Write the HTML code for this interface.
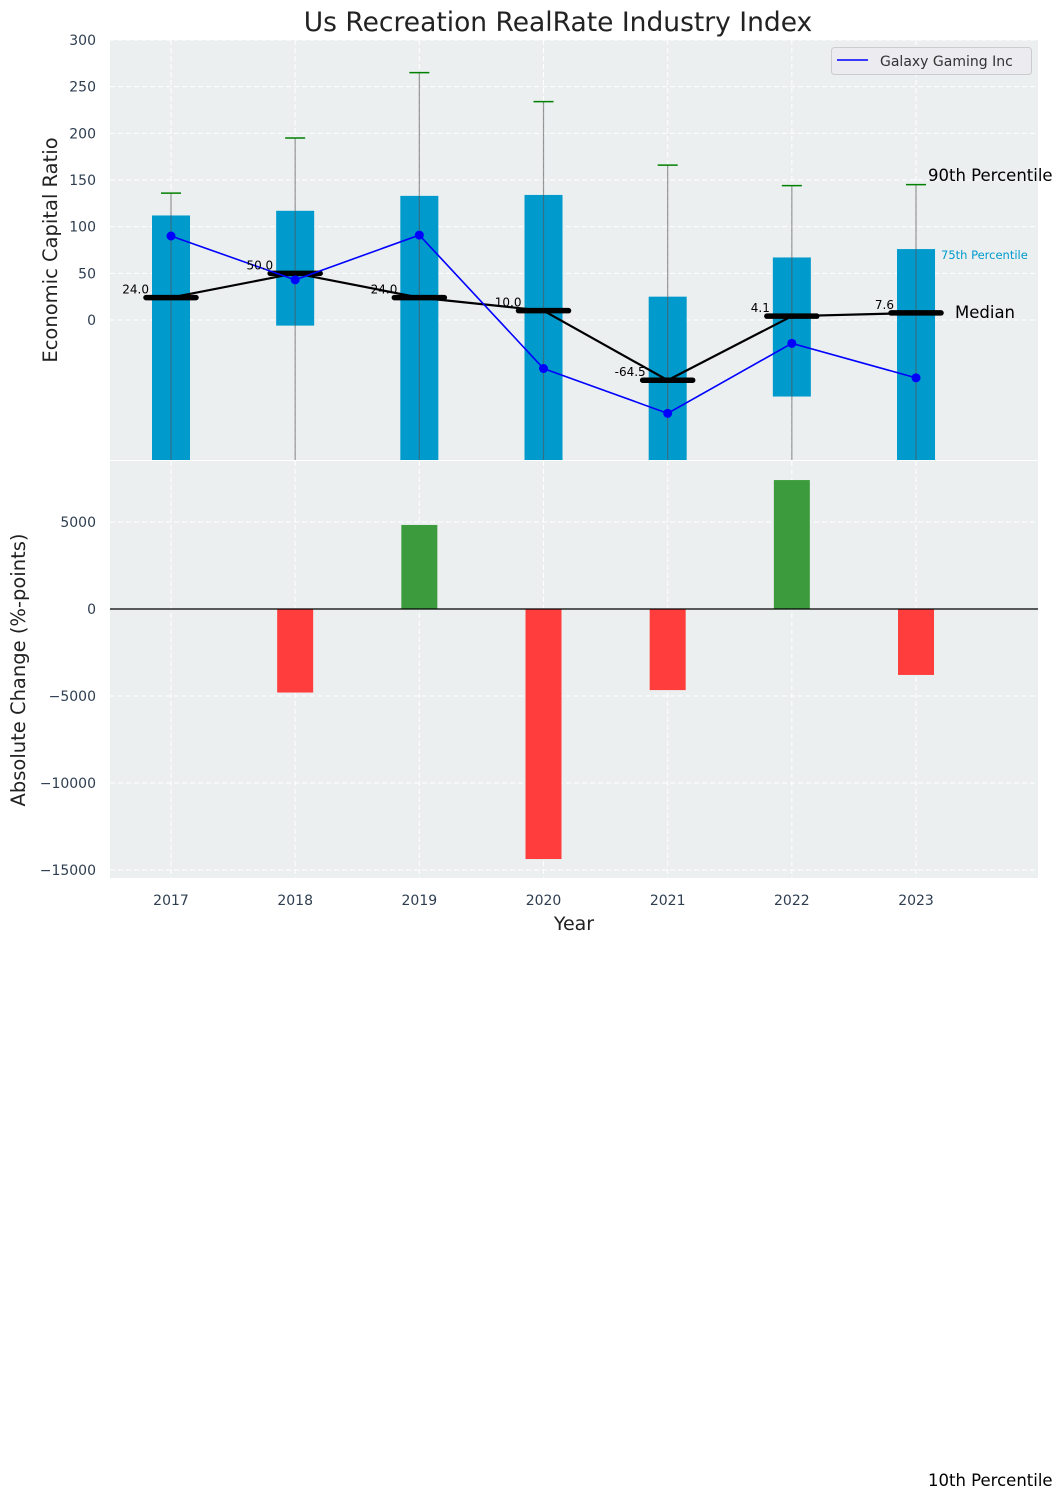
<!DOCTYPE html>
<html><head><meta charset="utf-8">
<style>
body{margin:0;background:#fff;}
svg{display:block;font-family:"DejaVu Sans","Liberation Sans",sans-serif;}
</style></head>
<body>
<svg id="chart" width="1063" height="1500" viewBox="0 0 1063 1500" xmlns="http://www.w3.org/2000/svg"></svg>
<script>
const years = [2017, 2018, 2019, 2020, 2021, 2022, 2023];
const p90 = [136, 195, 265, 234, 166, 144, 145];
const p75 = [112, 117, 133, 134, 25, 67, 76];
const p25 = [-200, -6, -200, -200, -200, -82, -200];
const p10 = [-250, -250, -250, -250, -250, -250, -250];
const medians = [24.0, 50.0, 24.0, 10.0, -64.5, 4.1, 7.6];
const medianLabels = ["24.0", "50.0", "24.0", "10.0", "-64.5", "4.1", "7.6"];
const company = [90, 43, 91, -52, -100, -25, -62];
const changes = [0, -4800, 4830, -14370, -4660, 7410, -3790];
const topTicks = [0, 50, 100, 150, 200, 250, 300];
const botTicks = [5000, 0, -5000, -10000, -15000];

const svgEl = document.getElementById('chart');
const NS = 'http://www.w3.org/2000/svg';
function mk(tag, attrs, parent, text){
  const e = document.createElementNS(NS, tag);
  for (const k in attrs) e.setAttribute(k, attrs[k]);
  if (text !== undefined) e.textContent = text;
  (parent || svgEl).appendChild(e);
  return e;
}
const L = 110, R = 1038;
const T1 = 40, B1 = 460, T2 = 461, B2 = 878;
const xS = i => 171 + i * 124.17;
const y1 = v => 320 - v * (280 / 300);
const y2 = v => 609 - v * (87 / 5000);

const bg1 = mk('rect', {x: L, y: T1, width: R - L, height: B1 - T1, fill: '#ebeff0'});


const bg2 = mk('rect', {x: L, y: T2, width: R - L, height: B2 - T2, fill: '#ebeff0'});



topTicks.forEach(t => {
  const g = mk('line', {x1: L, x2: R, y1: y1(t), y2: y1(t), stroke: '#fff', 'stroke-dasharray': '5,3', 'stroke-width': 1});
  
  
  const tl = mk('text', {x: 96, y: y1(t) + 5, 'text-anchor': 'end', 'font-size': 14, fill: '#2e3e50'}, svgEl, String(t));
  
  
});
botTicks.forEach(t => {
  const g = mk('line', {x1: L, x2: R, y1: y2(t), y2: y2(t), stroke: '#fff', 'stroke-dasharray': '5,3', 'stroke-width': 1});
  
  
  const lab = t < 0 ? '\u2212' + Math.abs(t) : String(t);
  const tl = mk('text', {x: 96, y: y2(t) + 5, 'text-anchor': 'end', 'font-size': 14, fill: '#2e3e50'}, svgEl, lab);
  
  
});
years.forEach((yr, i) => {
  const g1 = mk('line', {x1: xS(i), x2: xS(i), y1: T1, y2: B1, stroke: '#fff', 'stroke-dasharray': '5,3'});
  
  
  const g2 = mk('line', {x1: xS(i), x2: xS(i), y1: T2, y2: B2, stroke: '#fff', 'stroke-dasharray': '5,3'});
  
  
  const tl = mk('text', {x: xS(i), y: 905, 'text-anchor': 'middle', 'font-size': 14, fill: '#2e3e50'}, svgEl, String(yr));
  
  
});

const defs = mk('defs', {});
const cp = mk('clipPath', {id: 'c1'}, defs);
mk('rect', {x: L, y: T1, width: R - L, height: B1 - T1}, cp);
const topG = mk('g', {'clip-path': 'url(#c1)'});



years.forEach((yr, i) => {
  const x = xS(i);
  const bar = mk('rect', {x: x - 19, y: y1(p75[i]), width: 38, height: y1(p25[i]) - y1(p75[i]), fill: '#009ACD'}, topG);
  
  
  const wl = mk('line', {x1: x, x2: x, y1: y1(p90[i]), y2: y1(p10[i]), stroke: '#555', 'stroke-opacity': 0.6, 'stroke-width': 1.2}, topG);
  
  
  const cap = mk('line', {x1: x - 10, x2: x + 10, y1: y1(p90[i]), y2: y1(p90[i]), stroke: 'green', 'stroke-width': 1.5}, topG);
  
  
});
const medPts = medians.map((m, i) => xS(i) + ',' + y1(m)).join(' ');
const ml = mk('polyline', {points: medPts, fill: 'none', stroke: '#000', 'stroke-width': 2.2}, topG);


medians.forEach((m, i) => {
  const x = xS(i);
  const seg = mk('line', {x1: x - 25, x2: x + 25, y1: y1(m), y2: y1(m), stroke: '#000', 'stroke-width': 5.5, 'stroke-linecap': 'round'}, topG);
  
  
  const tx = mk('text', {x: x - 22, y: y1(m) - 4, 'text-anchor': 'end', 'font-size': 12, fill: '#000'}, svgEl, medianLabels[i]);
  
  
});
const cPts = company.map((v, i) => xS(i) + ',' + y1(v)).join(' ');
const cl = mk('polyline', {points: cPts, fill: 'none', stroke: 'blue', 'stroke-width': 1.6}, topG);


company.forEach((v, i) => {
  const d = mk('circle', {cx: xS(i), cy: y1(v), r: 4.5, fill: 'blue'}, topG);
  
  
});

years.forEach((yr, i) => {
  const v = changes[i];
  if (v === 0) return;
  const b = mk('rect', {x: xS(i) - 18, y: Math.min(y2(v), y2(0)), width: 36, height: Math.abs(y2(v) - y2(0)), fill: v > 0 ? '#3c9b3c' : '#ff3d3d'});
  
  
});
const zl = mk('line', {x1: L, x2: R, y1: y2(0), y2: y2(0), stroke: '#000', 'stroke-width': 1.3});



function txt(x, y, s, size, fill, anchor, name, rot){
  const e = document.createElementNS(NS, 'text');
  e.setAttribute('x', x); e.setAttribute('y', y);
  e.setAttribute('font-size', size); e.setAttribute('fill', fill);
  e.setAttribute('text-anchor', anchor);
  if (rot) e.setAttribute('transform', 'rotate(-90 ' + x + ' ' + y + ')');
  
  
  e.textContent = s; svgEl.appendChild(e);
}
txt(558, 31, 'Us Recreation RealRate Industry Index', 26.5, '#222', 'middle', 'chart-title');
txt(57, 250, 'Economic Capital Ratio', 19.5, '#222', 'middle', 'top-y-axis-title', true);
txt(25, 670, 'Absolute Change (%-points)', 19.5, '#222', 'middle', 'bottom-y-axis-title', true);
txt(574, 930, 'Year', 19, '#222', 'middle', 'x-axis-title');
txt(928, 181, '90th Percentile', 16.5, '#000', 'start', 'p90-annotation');
txt(941, 259, '75th Percentile', 11.5, '#009ACD', 'start', 'p75-annotation');
txt(955, 318, 'Median', 16.5, '#000', 'start', 'median-annotation');
txt(928, 1486, '10th Percentile', 16.5, '#000', 'start', 'p10-annotation');

const lg = mk('g', {});


mk('rect', {x: 831.5, y: 47.5, width: 200, height: 27, rx: 3, fill: '#ebebf0', stroke: '#ccc'}, lg);
mk('line', {x1: 837, x2: 868, y1: 60, y2: 60, stroke: 'blue', 'stroke-width': 1.6}, lg);
const lt = mk('text', {x: 880, y: 66, 'font-size': 14, fill: '#333'}, lg, 'Galaxy Gaming Inc');


</script>
</body></html>
